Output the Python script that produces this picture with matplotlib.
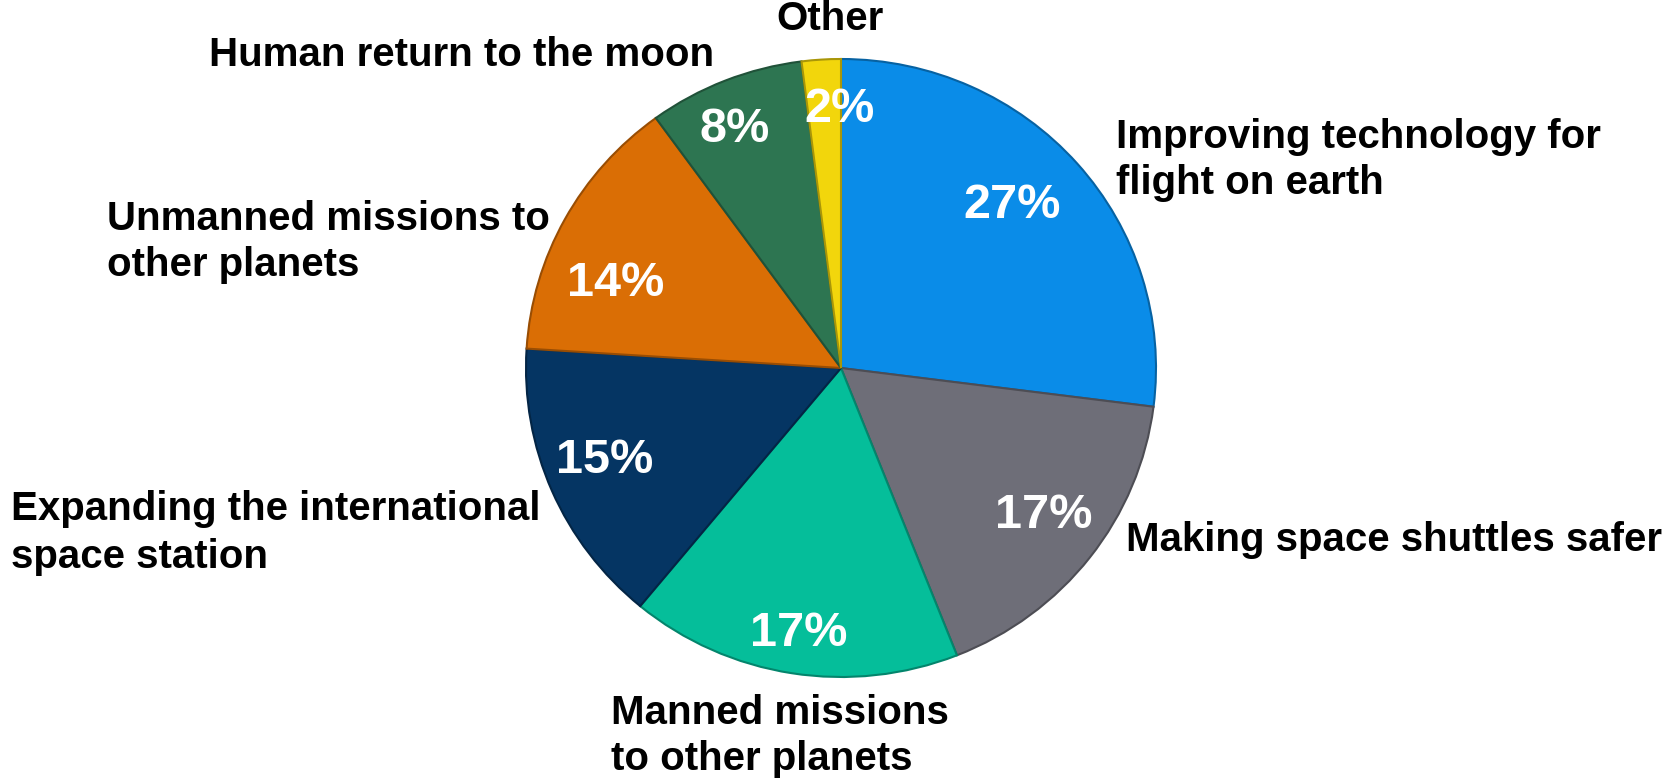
import matplotlib
matplotlib.use("Agg")
import matplotlib.pyplot as plt
import matplotlib.colors as mcolors

plt.rcParams["font.family"] = ["Liberation Sans", "DejaVu Sans"]

# 数据（从12点钟方向顺时针）
categories = [
    "Improving technology for\nflight on earth",
    "Making space shuttles safer",
    "Manned missions\nto other planets",
    "Expanding the international\nspace station",
    "Unmanned missions to\nother planets",
    "Human return to the moon",
    "Other",
]
shares = [27, 17, 17, 15, 14, 8, 2]
colors = ["#0A8CE8", "#6E6E78", "#05BE9A", "#053563", "#DA6E05", "#2D7551", "#F2D60C"]

# 画布像素坐标（y 从上往下）
W, H = 1671, 779
cx, cy = 841, 368
rx, ry = 315, 309   # 原图的饼略扁

# 外部标签位置（左端x, 中心y，像素）
label_pos = [
    (1116, 160),
    (1126, 540),
    (611, 736),
    (11, 533),
    (107, 242),
    (209, 55),
    (776, 19),
]
# 百分比标签中心位置（像素）
pct_pos = [
    (1012, 206),
    (1044, 515),
    (799, 634),
    (605, 460),
    (616, 284),
    (735, 130),
    (839, 109),
]

fig = plt.figure(figsize=(W / 100, H / 100), dpi=100)
ax = fig.add_axes([0, 0, 1, 1])

edge = [tuple(c * 0.7 for c in mcolors.to_rgb(col)) for col in colors]

# 饼在单位坐标中画，再用坐标范围把它拉成原图的位置和大小
wedges, texts, autotexts = ax.pie(
    shares,
    colors=colors,
    startangle=90,
    counterclock=False,
    radius=1.0,
    autopct="%d%%",
    pctdistance=0.8,
    wedgeprops=dict(linewidth=1.5),
    textprops=dict(color="white", fontsize=35, fontweight="bold"),
)
for w, e in zip(wedges, edge):
    w.set_edgecolor(e)

ax.set_aspect("auto")
ax.set_xlim(-cx / rx, (W - cx) / rx)
ax.set_ylim(-(H - cy) / ry, cy / ry)
ax.axis("off")

for t, (x, y) in zip(autotexts, pct_pos):
    t.set_transform(ax.transAxes)
    t.set_position((x / W, 1 - y / H))

for name, (x, y) in zip(categories, label_pos):
    ax.text(x / W, 1 - y / H, name, transform=ax.transAxes, ha="left",
            va="center", fontsize=29, fontweight="bold", color="black",
            linespacing=1.3)

fig.savefig("out.png", dpi=100)
